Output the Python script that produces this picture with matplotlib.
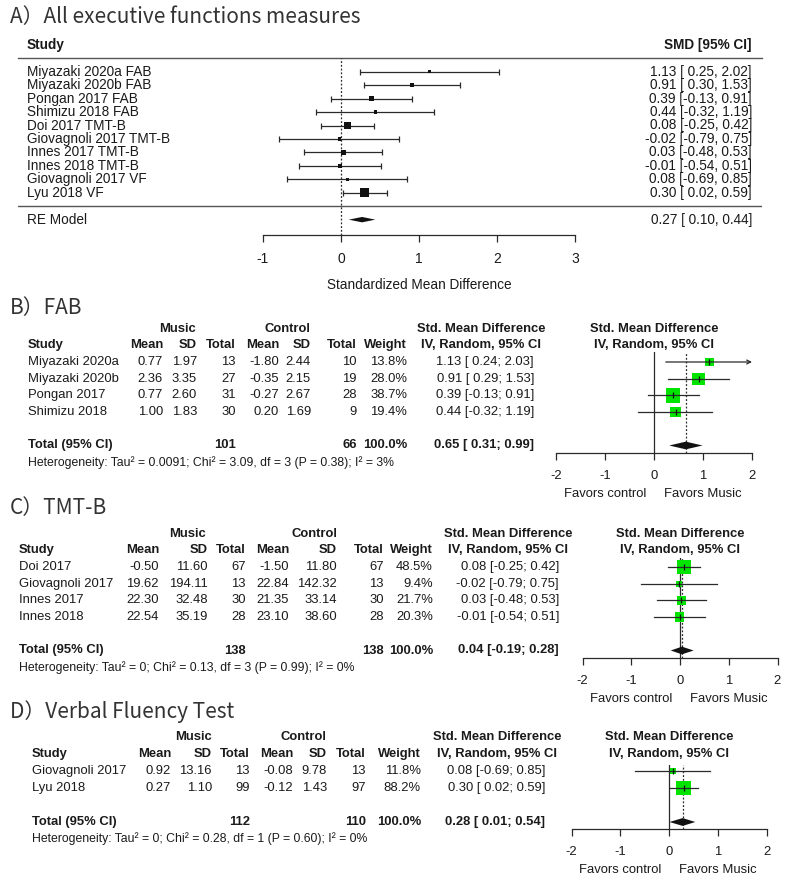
import matplotlib
matplotlib.use("Agg")
import matplotlib.pyplot as plt
import matplotlib.transforms as mtransforms
import numpy as np

plt.rcParams["font.family"] = ["Liberation Sans", "DejaVu Sans"]
plt.rcParams["axes.unicode_minus"] = False

# ---- A) all executive function measures
all_labels = ["Miyazaki 2020a FAB", "Miyazaki 2020b FAB", "Pongan 2017 FAB", "Shimizu 2018 FAB",
              "Doi 2017 TMT-B", "Giovagnoli 2017 TMT-B", "Innes 2017 TMT-B", "Innes 2018 TMT-B",
              "Giovagnoli 2017 VF", "Lyu 2018 VF"]
all_smd = [1.13, 0.91, 0.39, 0.44, 0.08, -0.02, 0.03, -0.01, 0.08, 0.30]
all_lo = [0.25, 0.30, -0.13, -0.32, -0.25, -0.79, -0.48, -0.54, -0.69, 0.02]
all_hi = [2.02, 1.53, 0.91, 1.19, 0.42, 0.75, 0.53, 0.51, 0.85, 0.59]
all_wt = [3.1, 6.4, 8.9, 4.2, 21.4, 4.1, 9.5, 8.7, 4.1, 29.6]  # estimated RE weights (%)
all_re = [0.27, 0.10, 0.44]

# ---- B) FAB
fab_study = ["Miyazaki 2020a", "Miyazaki 2020b", "Pongan 2017", "Shimizu 2018"]
fab_m_mean = [0.77, 2.36, 0.77, 1.00]
fab_m_sd = [1.97, 3.35, 2.60, 1.83]
fab_m_n = [13, 27, 31, 30]
fab_c_mean = [-1.80, -0.35, -0.27, 0.20]
fab_c_sd = [2.44, 2.15, 2.67, 1.69]
fab_c_n = [10, 19, 28, 9]
fab_wt = [13.8, 28.0, 38.7, 19.4]
fab_smd = [1.13, 0.91, 0.39, 0.44]
fab_lo = [0.24, 0.29, -0.13, -0.32]
fab_hi = [2.03, 1.53, 0.91, 1.19]
fab_pooled = [0.65, 0.31, 0.99]
fab_het = ["0.0091", "3.09", 3, "0.38", 3]

# ---- C) TMT-B
tmt_study = ["Doi 2017", "Giovagnoli 2017", "Innes 2017", "Innes 2018"]
tmt_m_mean = [-0.50, 19.62, 22.30, 22.54]
tmt_m_sd = [11.60, 194.11, 32.48, 35.19]
tmt_m_n = [67, 13, 30, 28]
tmt_c_mean = [-1.50, 22.84, 21.35, 23.10]
tmt_c_sd = [11.80, 142.32, 33.14, 38.60]
tmt_c_n = [67, 13, 30, 28]
tmt_wt = [48.5, 9.4, 21.7, 20.3]
tmt_smd = [0.08, -0.02, 0.03, -0.01]
tmt_lo = [-0.25, -0.79, -0.48, -0.54]
tmt_hi = [0.42, 0.75, 0.53, 0.51]
tmt_pooled = [0.04, -0.19, 0.28]
tmt_het = ["0", "0.13", 3, "0.99", 0]

# ---- D) Verbal fluency
vf_study = ["Giovagnoli 2017", "Lyu 2018"]
vf_m_mean = [0.92, 0.27]
vf_m_sd = [13.16, 1.10]
vf_m_n = [13, 99]
vf_c_mean = [-0.08, -0.12]
vf_c_sd = [9.78, 1.43]
vf_c_n = [13, 97]
vf_wt = [11.8, 88.2]
vf_smd = [0.08, 0.30]
vf_lo = [-0.69, 0.02]
vf_hi = [0.85, 0.59]
vf_pooled = [0.28, 0.01, 0.54]
vf_het = ["0", "0.28", 1, "0.60", 0]

W, H = 787, 884
TXT = "#1a1a1a"
LINE = "#2a2a2a"
GREEN = "#00e400"
PX = 0.72  # points per pixel at dpi 100
FS = 9.4   # table / forest text size

fig = plt.figure(figsize=(W / 100, H / 100), dpi=100)
bg = fig.add_axes([0, 0, 1, 1])
bg.set_xlim(0, W)
bg.set_ylim(H, 0)
bg.axis("off")


def title(y, s):
    bg.text(10, y, s, family=["Noto Sans CJK JP", "DejaVu Sans"], fontsize=15,
            color="#333333", ha="left", va="center")


def forest_ax(x0, x1, y_top, y_axis, zero, unit, row0, rowh, ticks, fs):
    ax = fig.add_axes([x0 / W, 1 - y_axis / H, (x1 - x0) / W, (y_axis - y_top) / H])
    ax.set_xlim((x0 - zero) / unit, (x1 - zero) / unit)
    ax.set_ylim((y_axis - row0) / rowh, (y_top - row0) / rowh)
    ax.patch.set_visible(False)
    for s in ("top", "left", "right"):
        ax.spines[s].set_visible(False)
    ax.spines["bottom"].set_bounds(ticks[0], ticks[-1])
    ax.spines["bottom"].set_color(LINE)
    ax.spines["bottom"].set_linewidth(0.9)
    ax.set_xticks(ticks)
    ax.set_xticklabels([str(t) for t in ticks])
    ax.tick_params(axis="x", direction="out", length=5, width=0.9, pad=7,
                   labelsize=fs, colors=LINE, labelcolor=TXT)
    ax.set_yticks([])
    return ax


# ================= A =================
title(17, "A）All executive functions measures")
axA = forest_ax(18, 762, 58.25, 235, 341, 78, 71.7, 13.45, [-1, 0, 1, 2, 3], 10)
trA = mtransforms.blended_transform_factory(bg.transData, axA.transData)
n = len(all_labels)
rows = np.arange(n)
smd = np.array(all_smd)
lo = np.array(all_lo)
hi = np.array(all_hi)
wt = np.array(all_wt)

axA.axhline(-1, color="#555555", lw=1.0, clip_on=False)
axA.axhline(n, color="#555555", lw=1.0)
axA.axvline(0, color=LINE, lw=0.9, ls=(0, (1.5, 1.5)))
axA.errorbar(smd, rows, xerr=[smd - lo, hi - smd], fmt="none", ecolor=LINE,
             elinewidth=0.9, capsize=2.2, capthick=0.9)
side = 3 + (wt - wt.min()) / (wt.max() - wt.min()) * 6.3
axA.scatter(smd, rows, marker="s", s=(side * PX) ** 2, color="#111111", linewidths=0, zorder=3)
re_row = n + 1
axA.fill([all_re[1], all_re[0], all_re[2], all_re[0]],
         [re_row, re_row - 0.2, re_row, re_row + 0.2], color="#111111", lw=0)

fa = 9.8
axA.text(27, -1.95, "Study", transform=trA, fontsize=fa, fontweight="bold", color=TXT,
         ha="left", va="center")
axA.text(752, -1.95, "SMD [95% CI]", transform=trA, fontsize=fa, fontweight="bold",
         color=TXT, ha="right", va="center")
for i in range(n):
    axA.text(27, i, all_labels[i], transform=trA, fontsize=fa, color=TXT, ha="left", va="center")
    axA.text(752, i, f"{all_smd[i]:.2f} [{all_lo[i]:5.2f}, {all_hi[i]:.2f}]", transform=trA,
             fontsize=fa, color=TXT, ha="right", va="center")
axA.text(27, re_row, "RE Model", transform=trA, fontsize=fa, color=TXT, ha="left", va="center")
axA.text(752, re_row, f"{all_re[0]:.2f} [{all_re[1]:5.2f}, {all_re[2]:.2f}]", transform=trA,
         fontsize=fa, color=TXT, ha="right", va="center")
axA.annotate("Standardized Mean Difference", xy=(1, 0), xycoords=("data", "axes fraction"),
             xytext=(0, -50 * PX), textcoords="offset points", ha="center", va="center",
             fontsize=fa, color=TXT)


# ================= meta panels =================
def meta_panel(ttl, ttl_y, study, mm, ms, mn, cm, cs, cn, wts, es, los, his, pooled, het, lay):
    k = len(study)
    ax = forest_ax(540, 787, lay["top"], lay["axis"], lay["zero"], lay["unit"],
                   lay["row0"], lay["rowh"], [-2, -1, 0, 1, 2], FS)
    tr = mtransforms.blended_transform_factory(bg.transData, ax.transData)
    title(ttl_y, ttl)
    c = lay["cols"]
    sx = lay["study"]

    def t(x, y, s, ha="right", bold=False, size=FS):
        ax.text(x, y, s, transform=tr, ha=ha, va="center", fontsize=size,
                fontweight="bold" if bold else "normal", color=TXT)

    # headers
    t(lay["music"], -2, "Music", "center", True)
    t(lay["control"], -2, "Control", "center", True)
    t(lay["smdc"], -2, "Std. Mean Difference", "center", True)
    t(sx, -1, "Study", "left", True)
    for x, h in zip(c[:7], ["Mean", "SD", "Total", "Mean", "SD", "Total", "Weight"]):
        t(x, -1, h, "right", True)
    t(lay["smdc"], -1, "IV, Random, 95% CI", "center", True)

    for i in range(k):
        t(sx, i, study[i], "left")
        t(c[0], i, f"{mm[i]:.2f}")
        t(c[1], i, f"{ms[i]:.2f}")
        t(c[2], i, f"{mn[i]}")
        t(c[3], i, f"{cm[i]:.2f}")
        t(c[4], i, f"{cs[i]:.2f}")
        t(c[5], i, f"{cn[i]}")
        t(c[6], i, f"{wts[i]:.1f}%")
        t(c[7], i, f"{es[i]:.2f} [{los[i]:5.2f}; {his[i]:.2f}]")

    tot = k + 1
    t(sx, tot, "Total (95% CI)", "left", True)
    t(c[2], tot, f"{sum(mn)}", "right", True)
    t(c[5], tot, f"{sum(cn)}", "right", True)
    t(c[6], tot, "100.0%", "right", True)
    t(c[7], tot, f"{pooled[0]:.2f} [{pooled[1]:5.2f}; {pooled[2]:.2f}]", "right", True)
    t(sx, tot + 1, f"Heterogeneity: Tau² = {het[0]}; Chi² = {het[1]}, df = {het[2]} "
                   f"(P = {het[3]}); I² = {het[4]}%", "left", False, 8.8)

    # forest
    ax.axvline(0, color=LINE, lw=0.9)
    ax.axvline(pooled[0], color=LINE, lw=0.9, ls=(0, (1.5, 1.5)))
    w = np.array(wts)
    side = 14.5 * np.sqrt(w / w.max())
    ax.scatter(es, np.arange(k), marker="s", s=(side * PX) ** 2, color=GREEN, linewidths=0,
               zorder=2)
    xmax = 2
    for i in range(k):
        if his[i] > xmax:
            ax.annotate("", xy=(xmax, i), xytext=(los[i], i),
                        arrowprops=dict(arrowstyle="->", lw=0.9, color=LINE,
                                        mutation_scale=7, shrinkA=0, shrinkB=0), zorder=3)
        else:
            ax.plot([los[i], his[i]], [i, i], color=LINE, lw=0.9, zorder=3)
    ax.plot(es, np.arange(k), ls="none", marker="|", ms=4, mew=0.9, color="#111111", zorder=4)
    ax.fill([pooled[1], pooled[0], pooled[2], pooled[0]],
            [tot, tot - 0.23, tot, tot + 0.23], color="#111111", lw=0, zorder=4)

    ax.text(0, -2, "Std. Mean Difference", ha="center", va="center", fontsize=FS,
            fontweight="bold", color=TXT)
    ax.text(0, -1, "IV, Random, 95% CI", ha="center", va="center", fontsize=FS,
            fontweight="bold", color=TXT)
    for xv, s in [(-1, "Favors control"), (1, "Favors Music")]:
        ax.annotate(s, xy=(xv, 0), xycoords=("data", "axes fraction"),
                    xytext=(0, -41 * PX), textcoords="offset points", ha="center",
                    va="center", fontsize=FS, color=TXT)


meta_panel("B）FAB", 308, fab_study, fab_m_mean, fab_m_sd, fab_m_n, fab_c_mean, fab_c_sd,
           fab_c_n, fab_wt, fab_smd, fab_lo, fab_hi, fab_pooled, fab_het,
           dict(top=352, axis=453, zero=654, unit=49, row0=362, rowh=16.7, study=28,
                cols=[163, 197, 236, 279, 311, 357, 407, 534],
                music=177, control=287, smdc=481))

meta_panel("C）TMT-B", 508, tmt_study, tmt_m_mean, tmt_m_sd, tmt_m_n, tmt_c_mean, tmt_c_sd,
           tmt_c_n, tmt_wt, tmt_smd, tmt_lo, tmt_hi, tmt_pooled, tmt_het,
           dict(top=558, axis=658, zero=680, unit=48.75, row0=567, rowh=16.7, study=19,
                cols=[159, 208, 246, 289, 337, 384, 433, 559],
                music=188, control=314, smdc=508))

meta_panel("D）Verbal Fluency Test", 712, vf_study, vf_m_mean, vf_m_sd, vf_m_n, vf_c_mean,
           vf_c_sd, vf_c_n, vf_wt, vf_smd, vf_lo, vf_hi, vf_pooled, vf_het,
           dict(top=765, axis=829, zero=669, unit=48.75, row0=771, rowh=17, study=32,
                cols=[171, 212, 250, 293, 327, 366, 421, 545],
                music=194, control=303, smdc=497))

fig.savefig("out.png", dpi=100)
